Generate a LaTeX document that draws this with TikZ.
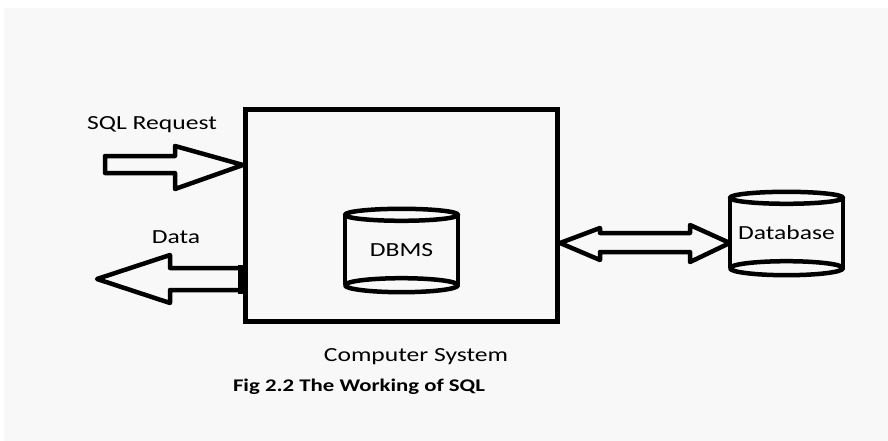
\documentclass[tikz,border=0pt]{standalone}
\usepackage{fontspec}
\setmainfont{Carlito}[FakeStretch=1.28]
\definecolor{paper}{RGB}{248,248,248}
\tikzset{
  thk/.style={line width=4.5pt, line join=round},
  cyl/.style={minimum width=113, minimum height=70, inner sep=0pt},
  lbl/.style={font=\fontsize{20}{24}\selectfont, inner sep=0pt}
}
\begin{document}
\begin{tikzpicture}[x=1pt,y=1pt]
    \useasboundingbox (0,0) rectangle (888,-441);
    \fill[paper] (4,-8) rectangle (888,-441);
    % main box and the two stores
    \node[draw, line width=5pt, minimum width=312, minimum height=211] (sys) at (401.5,-215.5) {};
    \node[cyl, lbl] (dbms) at (401.5,-250) {DBMS};
    \node[cyl, lbl] (db) at (786.5,-233) {Database};
    \foreach \c in {dbms,db} {
      \draw[thk] (\c.north) ellipse[x radius=56.5, y radius=6];
      \draw[thk] (\c.south) ellipse[x radius=56.5, y radius=7];
      \draw[thk] (\c.north west) -- (\c.south west) (\c.north east) -- (\c.south east);
    }
    % labels
    \node[lbl] (req) at (152,-125) {SQL Request};
    \node[lbl] (data) at (176,-237) {Data};
    \node[lbl] (syslbl) at (416,-357) {Computer System};
    \node[lbl, font=\fontsize{17.8}{22}\selectfont\bfseries] (cap) at (359,-387) {Fig 2.2 The Working of SQL};
    % request arrow
    \coordinate (reqtip) at (sys.west |- 0,-165);
    \draw[thk] (105,-156) -- (175,-156) -- (175,-146) -- (reqtip) -- (175,-189) -- (175,-173) -- (105,-173) -- cycle;
    % data arrow
    \coordinate (datatip) at (97,-279);
    \draw[thk] (sys.west |- 0,-268) -- (170,-268) -- (170,-255) -- (datatip) -- (170,-303) -- (170,-290) -- (sys.west |- 0,-290);
    \fill (238,-265) rectangle (247,-294);
    % link to database
    \coordinate (lt) at (sys.east |- 0,-243);
    \coordinate (rt) at (db.west |- 0,-243);
    \draw[thk] (lt) -- (600,-228) -- (600,-233) -- (690,-233) -- (690,-225) -- (rt) -- (690,-262) -- (690,-252) -- (600,-252) -- (600,-260) -- cycle;
\end{tikzpicture}
\end{document}
